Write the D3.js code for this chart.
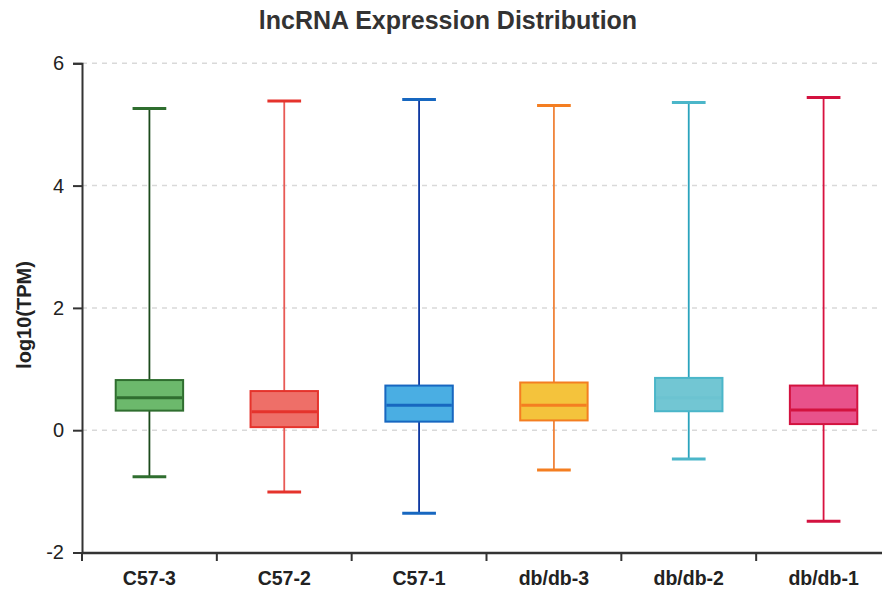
<!DOCTYPE html>
<html><head><meta charset="utf-8">
<script src="https://cdn.jsdelivr.net/npm/d3@7"></script>
<style>body{margin:0;background:#fff}svg{display:block;font-family:"Liberation Sans",Arial,sans-serif}</style>
</head><body><svg id="c" width="882" height="594"></svg>
<script>
const categories = ["C57-3","C57-2","C57-1","db/db-3","db/db-2","db/db-1"];
const whiskerLow  = [-0.76,-1.01,-1.36,-0.65,-0.47,-1.49];
const q1          = [0.32, 0.05, 0.14, 0.16, 0.31, 0.10];
const medians     = [0.53, 0.30, 0.41, 0.41, 0.53, 0.33];
const q3          = [0.82, 0.64, 0.73, 0.78, 0.855, 0.73];
const whiskerHigh = [5.26, 5.385, 5.41, 5.31, 5.36, 5.44];
const yTicks = [-2,0,2,4,6];
const fills   = ["#6cb96c","#ee6f68","#4aaee3","#f4c33c","#72c6d3","#e8528b"];
const strokes = ["#2f6e2f","#e5332c","#1767c0","#f47e21","#4bb6c9","#d3123f"];
const whiskers= ["#1b4a1b","#e85a55","#0c36a0","#f0843a","#2aa3bd","#d8123f"];

const svg = d3.select("#c");
const x = d3.scaleBand().domain(categories).range([82, 891]).padding(0);
const y = d3.scaleLinear().domain([-2,6]).range([552.5, 63.3]);

// grid
svg.append("g").selectAll("line").data(yTicks.filter(d=>d>-2)).join("line")
  .attr("x1",82).attr("x2",882).attr("y1",d=>y(d)).attr("y2",d=>y(d))
  .attr("stroke","#d9d9d9").attr("stroke-width",1.5).attr("stroke-dasharray","5,5");

const data = categories.map((c,i)=>({c,i,lo:whiskerLow[i],q1:q1[i],med:medians[i],q3:q3[i],hi:whiskerHigh[i]}));
const bw = x.bandwidth();
const g = svg.append("g").selectAll("g").data(data).join("g");
g.append("line").attr("x1",d=>x(d.c)+bw/2).attr("x2",d=>x(d.c)+bw/2)
  .attr("y1",d=>y(d.hi)).attr("y2",d=>y(d.lo))
  .attr("stroke",d=>whiskers[d.i]).attr("stroke-width",1.8);
["hi","lo"].forEach(k=>{
  g.append("line").attr("x1",d=>x(d.c)+bw*0.375).attr("x2",d=>x(d.c)+bw*0.625)
   .attr("y1",d=>y(d[k])).attr("y2",d=>y(d[k]))
   .attr("stroke",d=>strokes[d.i]).attr("stroke-width",3);
});
g.append("rect").attr("x",d=>x(d.c)+bw*0.25).attr("width",bw*0.5)
  .attr("y",d=>y(d.q3)).attr("height",d=>y(d.q1)-y(d.q3))
  .attr("fill",d=>fills[d.i]).attr("stroke",d=>strokes[d.i]).attr("stroke-width",2);
g.append("line").attr("x1",d=>x(d.c)+bw*0.25+1).attr("x2",d=>x(d.c)+bw*0.75-1)
  .attr("y1",d=>y(d.med)).attr("y2",d=>y(d.med))
  .attr("stroke",d=>strokes[d.i]).attr("stroke-width",3)
  .attr("stroke-opacity",d=>d.i===4?0.15:1);

const ya = svg.append("g").attr("transform","translate(82,0)")
  .call(d3.axisLeft(y).tickValues(yTicks).tickSize(9).tickPadding(9).tickFormat(d=>String(d)));
ya.select(".domain").attr("stroke","#333").attr("stroke-width",2);
ya.selectAll(".tick line").attr("stroke","#333").attr("stroke-width",2);
ya.selectAll(".tick text").attr("font-size",20).attr("fill","#222").attr("font-family","Liberation Sans, Arial, sans-serif");

const xa = svg.append("g").attr("transform","translate(0,552.5)")
  .call(d3.axisBottom(x).tickSize(0).tickPadding(19));
xa.select(".domain").attr("stroke","#333").attr("stroke-width",2.5);
xa.selectAll(".tick text").attr("font-size",19.5).attr("font-weight","bold").attr("fill","#222").attr("font-family","Liberation Sans, Arial, sans-serif");
svg.append("g").selectAll("line").data(categories).join("line")
  .attr("x1",d=>x(d)).attr("x2",d=>x(d)).attr("y1",552.5).attr("y2",561)
  .attr("stroke","#333").attr("stroke-width",2);

svg.append("text").attr("x",448).attr("y",29).attr("text-anchor","middle")
  .attr("font-size",25).attr("font-weight","bold").attr("fill","#333").text("lncRNA Expression Distribution");
svg.append("text").attr("transform","translate(31,315) rotate(-90)").attr("text-anchor","middle")
  .attr("font-size",20).attr("font-weight","bold").attr("fill","#222").text("log10(TPM)");
</script></body></html>
